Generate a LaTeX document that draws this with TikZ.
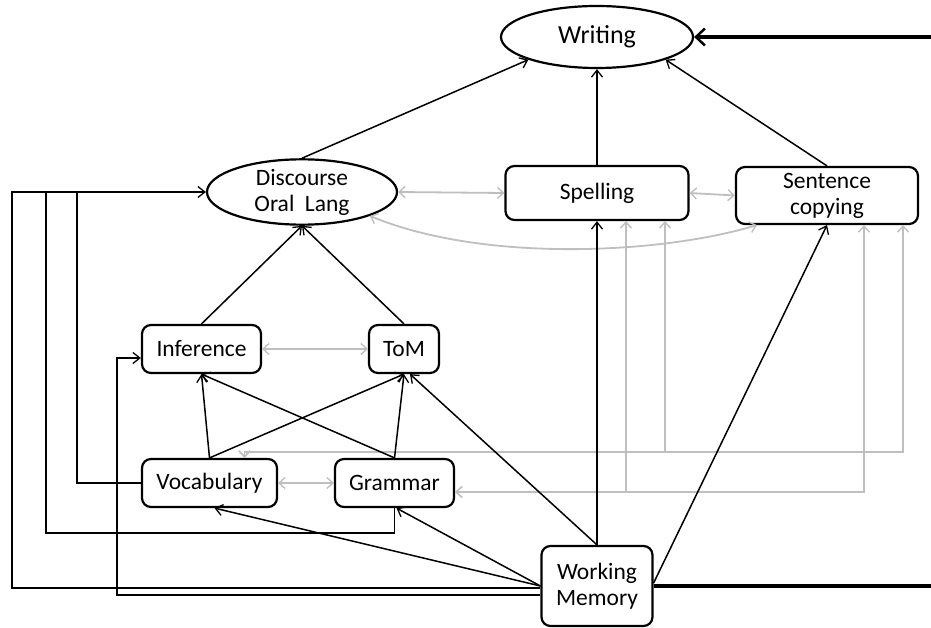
\documentclass[tikz,border=0pt]{standalone}
\usepackage{fontspec}
\setmainfont{Carlito}
\usetikzlibrary{shapes.geometric,arrows.meta}
\definecolor{lgray}{HTML}{BFBFBF}
\begin{document}
\begin{tikzpicture}[x=1pt,y=-1pt,
  nodefont/.style={font=\fontsize{23.5}{26}\selectfont},
  box/.style={draw, line width=2.2pt, rounded corners=9pt, inner sep=0pt, align=center, nodefont},
  ell/.style={draw, ellipse, line width=2.2pt, inner sep=0pt, align=center, nodefont},
  ln/.style={line width=1.5pt},
  blk/.style={line width=1.5pt, -{Straight Barb[length=7pt,width=11pt,line width=1.3pt]}},
  gry/.style={line width=1.8pt, draw=lgray, {Straight Barb[length=6pt,width=11pt,line width=1.4pt]}-{Straight Barb[length=6pt,width=11pt,line width=1.4pt]}},
  thk/.style={line width=3.5pt}
]
\useasboundingbox (0,0) rectangle (931,628);

% nodes
\node[ell, minimum width=192pt, minimum height=62pt, font=\fontsize{26}{30}\selectfont] (writing) at (597,37) {Writing};
\node[ell, minimum width=190pt, minimum height=62pt] (disc) at (302,192) {Discourse\\Oral\ \ Lang};
\node[box, minimum width=183pt, minimum height=54pt] (spell) at (597,193) {Spelling};
\node[box, minimum width=182pt, minimum height=57pt] (sent) at (827,195.5) {Sentence\\copying};
\node[box, minimum width=119pt, minimum height=48pt] (inf) at (201.5,349) {Inference};
\node[box, minimum width=70pt, minimum height=48pt] (tom) at (404,349) {ToM};
\node[box, minimum width=135pt, minimum height=48pt] (vocab) at (209.5,483) {Vocabulary};
\node[box, minimum width=119pt, minimum height=48pt] (gram) at (394.5,483) {Grammar};
\node[box, minimum width=111pt, minimum height=80pt] (wm) at (597,586) {Working\\Memory};

\coordinate (La) at (12,192);
\coordinate (Lb) at (46,192);
\coordinate (Lc) at (77,192);
\coordinate (Rtop) at (931,37);
\coordinate (Rbot) at (931,586);

% gray connectors
\draw[gry] (inf) -- (tom);
\draw[gry] (vocab) -- (gram);
\draw[gry] (disc.east) -- (spell.west);
\draw[gry] (spell.east) -- (sent.west);
\draw[gry] ([xshift=22pt]sent.south west) .. controls +(-100,30) and +(110,46) .. (disc.south east);
\draw[gry] ([xshift=68pt]spell.south) -- ++(0,231) -| ([xshift=35pt]vocab.north);
\draw[gry] ([xshift=76pt]sent.south) -- ++(0,227) -| ([xshift=35pt]vocab.north);
\draw[gry] ([xshift=29pt]spell.south) |- ([yshift=-9pt]gram.east);
\draw[gry] ([xshift=37pt]sent.south) |- ([yshift=-9pt]gram.east);

% black connectors
\draw[blk] (disc.north) -- (writing.south west);
\draw[blk] (spell.north) -- (writing.south);
\draw[blk] (sent.north) -- (writing.south east);
\draw[blk] (inf.north) -- (disc.south);
\draw[blk] (tom.north) -- (disc.south);
\draw[blk] (vocab.north) -- (inf.south);
\draw[blk] (vocab.north) -- (tom.south);
\draw[blk] (gram.north) -- (inf.south);
\draw[blk] (gram.north) -- (tom.south);
\draw[blk] (wm.north) -- ([xshift=6pt]tom.south);
\draw[blk] (wm.north) -- (spell.south);
\draw[blk] ([yshift=3pt]wm.east) -- (sent.south);
\draw[blk] (wm.west) -- ([xshift=5pt]vocab.south);
\draw[blk] (wm.west) -- ([xshift=2pt]gram.south);

\draw[blk] ([yshift=-2pt]wm.west) -| (La) -- (disc.west);
\draw[ln] (gram.south) -- ++(0,25) -| (Lb);
\draw[ln] (vocab.west) -| (Lc);
\draw[blk] ([yshift=-9pt]wm.west) -| ([xshift=-24pt,yshift=-9pt]inf.west) -- ([yshift=-9pt]inf.west);

% thick connectors at the right edge
\draw[thk, -{Straight Barb[length=9pt,width=17pt,line width=2.5pt]}] (Rtop) -- (writing.east);
\draw[thk] (wm.east) -- (Rbot);
\end{tikzpicture}
\end{document}
